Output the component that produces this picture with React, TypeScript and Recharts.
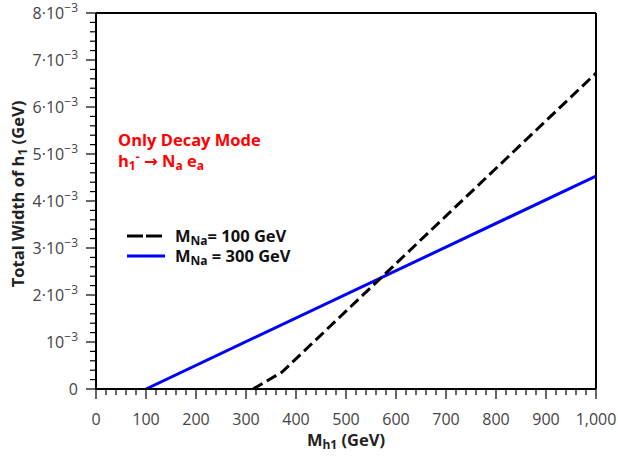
import { LineChart, Line, XAxis, YAxis, ReferenceLine } from 'recharts';

// M_Na = 100 GeV (dashed black)
const mna100 = [
  { x: 314, y: 0 },
  { x: 372, y: 0.00036 },
  { x: 1000, y: 0.00672 },
];

// M_Na = 300 GeV (solid blue)
const mna300 = [
  { x: 100, y: 0 },
  { x: 1000, y: 0.00453 },
];

const xMajor = [0, 100, 200, 300, 400, 500, 600, 700, 800, 900, 1000];
const yMajor = [0, 0.001, 0.002, 0.003, 0.004, 0.005, 0.006, 0.007, 0.008];

// 4 minor ticks between each pair of major ticks
const withMinor = (major: number[]) => {
  const out: number[] = [];
  for (let i = 0; i < major.length - 1; i++) {
    const step = (major[i + 1] - major[i]) / 5;
    for (let k = 0; k < 5; k++) out.push(major[i] + k * step);
  }
  out.push(major[major.length - 1]);
  return out;
};

const xTicks = withMinor(xMajor);
const yTicks = withMinor(yMajor);

const FONT = '"Open Sans", sans-serif';
const TICK_COLOR = '#444';

const isMajor = (v: number, unit: number) => Math.abs(v / unit - Math.round(v / unit)) < 1e-6;

const XTick = (props: any) => {
  const { x, y, payload } = props;
  const major = isMajor(payload.value, 100);
  return (
    <g>
      <line x1={x} y1={y} x2={x} y2={y + (major ? 10 : 6)} stroke="#000" strokeWidth={1.2} />
      {major && (
        <text x={x} y={y + 36} textAnchor="middle" fontFamily={FONT} fontSize={16} fill={TICK_COLOR}>
          {payload.value.toLocaleString('en-US')}
        </text>
      )}
    </g>
  );
};

const YTick = (props: any) => {
  const { x, y, payload } = props;
  const major = isMajor(payload.value, 0.001);
  const n = Math.round(payload.value * 1000);
  return (
    <g>
      <line x1={x} y1={y} x2={x - (major ? 10 : 6)} y2={y} stroke="#000" strokeWidth={1.2} />
      {major && (
        <text x={x - 18} y={y + 6} textAnchor="end" fontFamily={FONT} fontSize={16} fill={TICK_COLOR}>
          {n === 0 ? (
            '0'
          ) : (
            <>
              {n === 1 ? '10' : `${n}·10`}
              <tspan dy={-7} fontSize={12}>−3</tspan>
            </>
          )}
        </text>
      )}
    </g>
  );
};

export default function App() {
  return (
    <div style={{ position: 'absolute', left: 0, top: 0, width: 618, height: 456 }}>
      <LineChart width={618} height={456} margin={{ top: 13, right: 22, bottom: 0, left: 0 }}>
        <XAxis
          type="number"
          dataKey="x"
          domain={[0, 1000]}
          ticks={xTicks}
          interval={0}
          tick={<XTick />}
          tickLine={false}
          tickSize={0}
          tickMargin={0}
          height={67}
          axisLine={{ stroke: '#000', strokeWidth: 2 }}
          allowDataOverflow
        />
        <YAxis
          type="number"
          domain={[0, 0.008]}
          ticks={yTicks}
          interval={0}
          tick={<YTick />}
          tickLine={false}
          tickSize={0}
          tickMargin={0}
          width={96}
          axisLine={{ stroke: '#000', strokeWidth: 2 }}
          allowDataOverflow
        />
        <ReferenceLine y={0.008} stroke="#000" strokeWidth={2} />
        <ReferenceLine x={1000} stroke="#000" strokeWidth={2} />
        <Line
          data={mna300}
          dataKey="y"
          type="linear"
          stroke="#0000ff"
          strokeWidth={3}
          dot={false}
          isAnimationActive={false}
        />
        <Line
          data={mna100}
          dataKey="y"
          type="linear"
          stroke="#000"
          strokeWidth={3}
          strokeDasharray="11 5"
          dot={false}
          isAnimationActive={false}
        />
      </LineChart>
      <svg
        width={618}
        height={456}
        style={{ position: 'absolute', left: 0, top: 0, pointerEvents: 'none' }}
        fontFamily={FONT}
      >
        {/* axis titles */}
        <text x={346} y={446} textAnchor="middle" fontSize={16.5} fontWeight="bold" fill="#222">
          M<tspan fontSize={12} dy={3}>h1</tspan>
          <tspan dy={-3}> (GeV)</tspan>
        </text>
        <text
          transform="translate(24,194) rotate(-90)"
          textAnchor="middle"
          fontSize={16.5}
          fontWeight="bold"
          fill="#222"
        >
          Total Width of h<tspan fontSize={12} dy={3}>1</tspan>
          <tspan dy={-3}> (GeV)</tspan>
        </text>

        {/* annotation */}
        <text x={118} y={146} fontSize={16.5} fontWeight="bold" fill="#ff0000">
          Only Decay Mode
        </text>
        <text x={118} y={167} fontSize={16.5} fontWeight="bold" fill="#ff0000">
          h<tspan fontSize={12} dy={3}>1</tspan>
          <tspan fontSize={12} dy={-9}>-</tspan>
          <tspan dy={6}> </tspan>
          <tspan fontFamily='"DejaVu Sans", sans-serif'>→</tspan>
          <tspan> N</tspan>
          <tspan fontSize={12} dy={3}>a</tspan>
          <tspan dy={-3}> e</tspan>
          <tspan fontSize={12} dy={3}>a</tspan>
        </text>

        {/* legend */}
        <line x1={127} y1={236} x2={162} y2={236} stroke="#000" strokeWidth={3} strokeDasharray="16 3" />
        <text x={175} y={242} fontSize={16.5} fontWeight="bold" fill="#111">
          M<tspan fontSize={12} dy={3}>Na</tspan>
          <tspan dy={-3}>= 100 GeV</tspan>
        </text>
        <line x1={127} y1={256} x2={165} y2={256} stroke="#0000ff" strokeWidth={3} />
        <text x={175} y={262} fontSize={16.5} fontWeight="bold" fill="#111">
          M<tspan fontSize={12} dy={3}>Na</tspan>
          <tspan dy={-3}> = 300 GeV</tspan>
        </text>
      </svg>
    </div>
  );
}
